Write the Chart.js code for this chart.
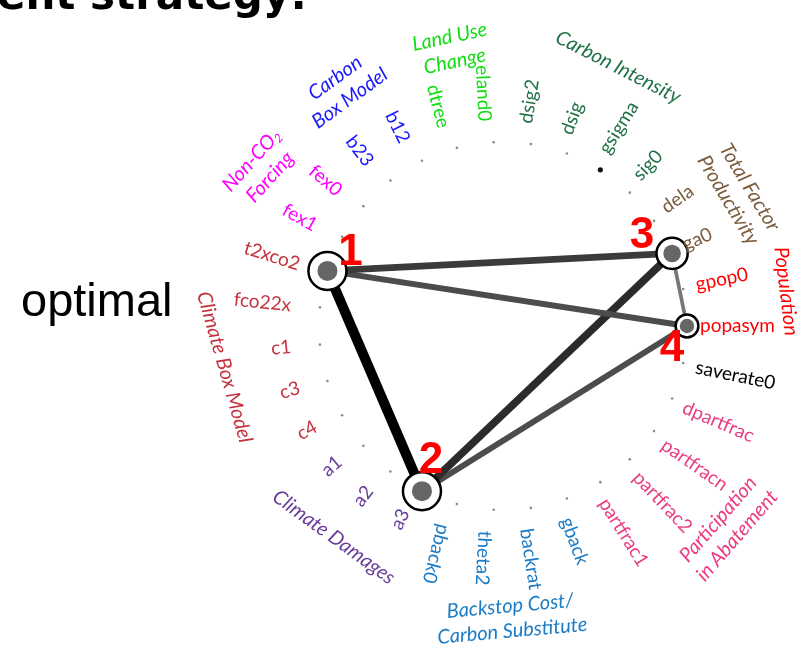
<!DOCTYPE html>
<html>
<head>
<meta charset="utf-8">
<script src="https://cdn.jsdelivr.net/npm/chart.js@4/dist/chart.umd.min.js"></script>
<style>
  html, body { margin: 0; padding: 0; background: #fff; }
  canvas { display: block; }
</style>
</head>
<body>
<canvas id="ring" width="803" height="654"></canvas>
<script>
// ---- Data -------------------------------------------------------------
// Model parameters around the ring, clockwise from 12 o'clock
const params = ['eland0', 'dsig2', 'dsig', 'gsigma', 'sig0', 'dela', 'ga0', 'gpop0',
  'popasym', 'saverate0', 'dpartfrac', 'partfracn', 'partfrac2', 'partfrac1', 'gback',
  'backrat', 'theta2', 'pback0', 'a3', 'a2', 'a1', 'c4', 'c3', 'c1', 'fco22x', 't2xco2',
  'fex1', 'fex0', 'b23', 'b12', 'dtree'];

// Parameter groups (index into groupNames, -1 = ungrouped)
const groupNames = ['Land Use\nChange', 'Carbon Intensity', 'Total Factor\nProductivity',
  'Population', 'Participation\nin Abatement', 'Backstop Cost/\nCarbon Substitute',
  'Climate Damages', 'Climate Box Model', 'Non-CO\u2082\nForcing', 'Carbon\nBox Model'];
const paramGroup = [0, 1, 1, 1, 1, 2, 2, 3, 3, -1, 4, 4, 4, 4, 5, 5, 5, 5,
  6, 6, 6, 7, 7, 7, 7, 7, 8, 8, 9, 9, 0];

// Influential parameters (numbered nodes) and their relative strength
const nodeParams = ['t2xco2', 'a3', 'ga0', 'popasym'];
const nodeLabels = ['1', '2', '3', '4'];
const nodeStrength = [1.0, 1.0, 0.82, 0.6];

// Interactions between nodes (1-based node numbers) and their strength
const edgeFrom = [1, 1, 1, 2, 2, 3];
const edgeTo = [2, 3, 4, 3, 4, 4];
const edgeWeight = [1.0, 0.65, 0.55, 0.75, 0.55, 0.3];

// Parameter marked with a dark dot on the ring
const markedParam = 'gsigma';

// ---- Layout & style ---------------------------------------------------
const RING_START = -2.9;     // angle of the first parameter, degrees clockwise from top
const LABEL_FLIP = 200;      // beyond this angle labels read toward the centre
const LABEL_GAP = 21;        // px from ring to parameter label
const LABEL_SHIFT_X = -8;    // small horizontal nudge applied to all parameter labels
const FONT_FAMILY = 'Lato, "Open Sans", sans-serif';

const groupColors = ['#12dd12', '#1e7145', '#7b5b3b', '#ff0000', '#ea3c83', '#1b7bc4',
  '#6a3d9a', '#c4323e', '#ff00ff', '#1a1aff'];
const ungroupedColor = '#000000';

// Group caption placement: [angle deg, radius in ring units, rotation deg]
const groupPlacement = [
  [349.6, 1.53, -12],
  [24.0, 1.54, 27],
  [60.7, 1.47, 59],
  [83.0, 1.55, 83],
  [131.9, 1.64, -49],
  [178.4, 1.59, -5],
  [218.7, 1.47, 36],
  [261.6, 1.53, 74],
  [303.0, 1.57, -48],
  [326.0, 1.56, -36]
];

// Number badge offsets next to each node (px)
const nodeLabelOffset = [[23, -20], [9, -32], [-30, -20], [-15, 21]];

// ---- Geometry helpers -------------------------------------------------
const angleOf = i => RING_START + i * 360 / params.length;
function polar(angleDeg, r) {
  const a = angleDeg * Math.PI / 180;
  return { x: r * Math.sin(a), y: r * Math.cos(a) };
}
const ringPoints = params.map((p, i) => polar(angleOf(i), 1));
const nodePoints = nodeParams.map(p => ringPoints[params.indexOf(p)]);
const nodeOuter = nodeStrength.map(s => 19 * s);
const nodeInner = nodeOuter.map(r => 3 + 0.37 * r);

function grey(w) {
  const g = Math.round(170 * (1 - w));
  return `rgb(${g},${g},${g})`;
}

const edgeSets = edgeFrom.map((a, k) => ({
  data: [nodePoints[a - 1], nodePoints[edgeTo[k] - 1]],
  showLine: true,
  borderColor: grey(edgeWeight[k]),
  borderWidth: 1 + 9 * edgeWeight[k],
  borderCapStyle: 'butt',
  pointRadius: 0,
  order: 3
}));

// Draw a caption line; a subscript two is set smaller and lowered
function fillWithSubscript(ctx, text, y, size) {
  if (!text.includes('\u2082')) { ctx.fillText(text, 0, y); return; }
  const [head, tail] = text.split('\u2082');
  const base = ctx.font;
  const subFont = base.replace(`${size}px`, `${Math.round(size * 0.62)}px`);
  const wHead = ctx.measureText(head).width;
  ctx.font = subFont;
  const wSub = ctx.measureText('2').width;
  ctx.font = base;
  const wTail = ctx.measureText(tail).width;
  const total = wHead + wSub + wTail;
  const align = ctx.textAlign;
  ctx.textAlign = 'left';
  let x = -total / 2;
  ctx.fillText(head, x, y);
  x += wHead;
  ctx.font = subFont;
  ctx.fillText('2', x, y + size * 0.28);
  x += wSub;
  ctx.font = base;
  ctx.fillText(tail, x, y);
  ctx.textAlign = align;
}

// ---- Text overlay -----------------------------------------------------
const textPlugin = {
  id: 'ringText',
  afterDatasetsDraw(chart) {
    const ctx = chart.ctx;
    const xs = chart.scales.x, ys = chart.scales.y;
    const cx = xs.getPixelForValue(0);
    const unit = xs.getPixelForValue(1) - cx;
    const toPx = p => ({ x: xs.getPixelForValue(p.x), y: ys.getPixelForValue(p.y) });

    // parameter labels, radial
    ctx.save();
    ctx.font = `19px ${FONT_FAMILY}`;
    ctx.textBaseline = 'middle';
    params.forEach((name, i) => {
      const ang = ((angleOf(i) % 360) + 360) % 360;
      const pos = toPx(polar(ang, 1 + LABEL_GAP / unit));
      const g = paramGroup[i];
      ctx.fillStyle = g < 0 ? ungroupedColor : groupColors[g];
      ctx.save();
      ctx.translate(pos.x + LABEL_SHIFT_X, pos.y);
      if (ang > 0 && ang < LABEL_FLIP) {
        ctx.rotate((ang - 90) * Math.PI / 180);
        ctx.textAlign = 'left';
      } else {
        ctx.rotate((ang + 90) * Math.PI / 180);
        ctx.textAlign = 'right';
      }
      ctx.fillText(name, 0, 0);
      ctx.restore();
    });
    ctx.restore();

    // group captions
    const capSize = 20;
    ctx.save();
    ctx.font = `italic ${capSize}px ${FONT_FAMILY}`;
    ctx.textAlign = 'center';
    ctx.textBaseline = 'middle';
    groupNames.forEach((name, g) => {
      const [ang, r, rot] = groupPlacement[g];
      const pos = toPx(polar(ang, r));
      const lines = name.split('\n');
      const lh = 25;
      ctx.save();
      ctx.translate(pos.x, pos.y);
      ctx.rotate(rot * Math.PI / 180);
      ctx.fillStyle = groupColors[g];
      lines.forEach((ln, k) => {
        fillWithSubscript(ctx, ln, (k - (lines.length - 1) / 2) * lh, capSize);
      });
      ctx.restore();
    });
    ctx.restore();

    // node numbers
    ctx.save();
    ctx.font = 'bold 44px "Liberation Sans", Arial, sans-serif';
    ctx.fillStyle = '#ff0000';
    ctx.textAlign = 'center';
    ctx.textBaseline = 'middle';
    nodePoints.forEach((p, k) => {
      const px = toPx(p);
      ctx.fillText(nodeLabels[k], px.x + nodeLabelOffset[k][0], px.y + nodeLabelOffset[k][1] + 2);
    });
    ctx.restore();

    // side caption and heading
    ctx.save();
    ctx.fillStyle = '#000';
    ctx.font = '47px "Liberation Sans", Arial, sans-serif';
    ctx.textAlign = 'left';
    ctx.textBaseline = 'alphabetic';
    ctx.fillText('optimal', 21, 316);
    ctx.font = 'bold 42px "DejaVu Sans", sans-serif';
    ctx.textAlign = 'right';
    ctx.fillText('ent strategy:', 307, 9);
    ctx.restore();
  }
};

new Chart(document.getElementById('ring'), {
  type: 'scatter',
  data: {
    datasets: [
      {
        data: nodePoints,
        pointRadius: nodeInner,
        backgroundColor: '#666666',
        borderWidth: 0,
        order: 0
      },
      {
        data: nodePoints,
        pointRadius: nodeOuter,
        backgroundColor: '#ffffff',
        borderColor: '#000000',
        borderWidth: 2.5,
        order: 1
      },
      {
        data: ringPoints,
        pointRadius: params.map(p => p === markedParam ? 2.6 : 1.3),
        backgroundColor: params.map(p => p === markedParam ? '#111' : '#8a8a8a'),
        borderWidth: 0,
        order: 2
      },
      ...edgeSets
    ]
  },
  options: {
    responsive: false,
    animation: false,
    devicePixelRatio: 1,
    events: [],
    layout: { padding: { left: 227, right: 24, top: 50, bottom: 52 } },
    plugins: { legend: { display: false }, tooltip: { enabled: false } },
    scales: {
      x: { type: 'linear', min: -1.5, max: 1.5, display: false },
      y: { type: 'linear', min: -1.5, max: 1.5, display: false }
    }
  },
  plugins: [textPlugin]
});
</script>
</body>
</html>
